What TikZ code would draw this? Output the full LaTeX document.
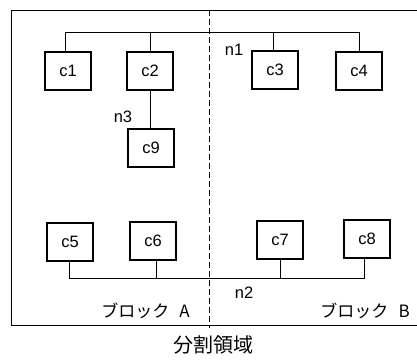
\documentclass[tikz,border=0pt]{standalone}
\usepackage{fontspec}
\setmainfont{Liberation Sans}
\newfontfamily\jpfont{Noto Sans CJK JP}
\begin{document}
\begin{tikzpicture}[x=1pt,y=-1pt,
  cell/.style={draw, line width=1.6pt, minimum width=46pt, minimum height=38pt, inner sep=0pt, font=\fontsize{16.5}{18}\selectfont},
  wire/.style={line width=0.8pt},
  frame/.style={line width=0.8pt},
  lbl/.style={inner sep=0pt, font=\fontsize{16.5}{18}\selectfont},
  blk/.style={inner sep=0pt, font=\jpfont\fontsize{17}{19}\selectfont},
]
\useasboundingbox (0,0) rectangle (417,362);
% frame
\coordinate (tl) at (11,10);
\coordinate (tr) at (417,10);
\coordinate (bl) at (11,325);
\coordinate (br) at (417,325);
\draw[frame] (tr) -- (tl) -- (bl) -- (br);
\coordinate (dt) at (209,10);
\coordinate (db) at (209,328);
\draw[frame, dash pattern=on 6pt off 3pt] (dt) -- (db);
% cells
\node[cell] (c1) at (68,71) {c1};
\node[cell] (c2) at (150,71) {c2};
\node[cell] (c9) at (151,148) {c9};
\node[cell] (c3) at (275,70) {c3};
\node[cell] (c4) at (359,71) {c4};
\node[cell] (c5) at (70,242) {c5};
\node[cell] (c6) at (153,241) {c6};
\node[cell] (c7) at (280,240) {c7};
\node[cell] (c8) at (367,239) {c8};
% buses
\coordinate (busT) at (0,32);
\coordinate (busB) at (0,278);
\draw[wire] ([xshift=-3pt]c1.north) -- ([xshift=-3pt]c1.north |- busT) -| (c4.north);
\draw[wire] (c2.north) -- (c2.north |- busT);
\draw[wire] ([xshift=-2pt]c3.north) -- ([xshift=-2pt]c3.north |- busT);
\draw[wire] ([xshift=-1pt]c9.north) -- ([xshift=-1pt]c9.north |- c2.south);
\draw[wire] ([xshift=-1pt]c5.south) -- ([xshift=-1pt]c5.south |- busB) -| ([xshift=-3pt]c8.south);
\draw[wire] ([xshift=3pt]c6.south) -- ([xshift=3pt]c6.south |- busB);
\draw[wire] (c7.south) -- (c7.south |- busB);
% labels
\node[lbl] (n1) at (234,50) {n1};
\node[lbl] (n3) at (123,117) {n3};
\node[lbl] (n2) at (244,293) {n2};
\node[blk, anchor=east] (ba) at (190,311) {ブロック\hspace{0.6em}A};
\node[blk, anchor=east] (bb) at (410,311) {ブロック\hspace{0.6em}B};
\node[inner sep=0pt, font=\jpfont\fontsize{20}{22}\selectfont] (title) at (213,345) {分割領域};
\end{tikzpicture}
\end{document}
